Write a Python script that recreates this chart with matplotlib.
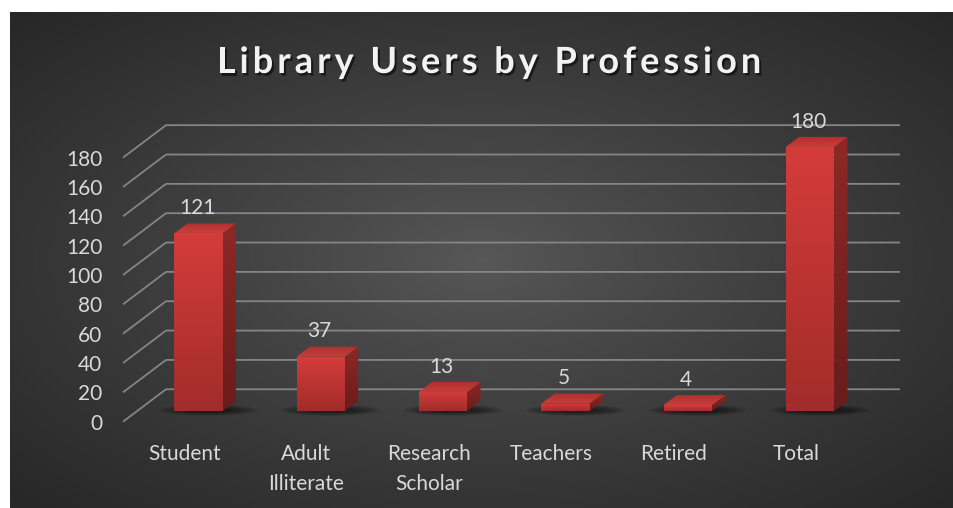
import numpy as np
import matplotlib
matplotlib.use("Agg")
from matplotlib import pyplot as plt
from matplotlib.patches import Polygon, Ellipse
import matplotlib.patheffects as pe

categories = ["Student", "Adult\nIlliterate", "Research\nScholar", "Teachers", "Retired", "Total"]
users = [121, 37, 13, 5, 4, 180]
y_ticks = [0, 20, 40, 60, 80, 100, 120, 140, 160, 180]
chart_title = "Library Users by Profession"

FONT = ["Lato", "DejaVu Sans"]
LABEL_COLOR = "#d9d9d9"

# oblique 3d look: full floor depth in data units
DEPTH_X = 0.3515
DEPTH_Y = 22.1
BAR_D0, BAR_D1 = 0.33, 0.64
BAR_W = 0.395

W, H = 954, 508
fig = plt.figure(figsize=(W / 100, H / 100), dpi=100)
fig.patch.set_facecolor("white")

# radial grey background
bg = fig.add_axes([10 / W, 0, (W - 10) / W, (H - 12) / H])
bg.set_axis_off()
gx = np.linspace(-1, 1, 472)
gy = np.linspace(-1, 1, 248)
xx, yy = np.meshgrid(gx, gy)
r = np.clip(np.sqrt(xx ** 2 + yy ** 2) / np.sqrt(2), 0, 1)
c_in, c_out = 0x58 / 255, 0x27 / 255
grey = c_in + (c_out - c_in) * r ** 0.85
bg.imshow(np.dstack([grey, grey, grey]), extent=[0, 1, 0, 1], aspect="auto", interpolation="bilinear")
bg.set_xlim(0, 1)
bg.set_ylim(0, 1)

ax = fig.add_axes([123 / W, 86.3 / H, 734 / W, 264.1 / H])
ax.set_facecolor("none")
for s in ax.spines.values():
    s.set_visible(False)

n = len(categories)
x0, x1 = -0.5, n - 0.5

# gridlines: side wall + back wall
for v in y_ticks:
    ax.plot([x0, x0 + DEPTH_X, x1 + DEPTH_X], [v, v + DEPTH_Y, v + DEPTH_Y],
            color="#858585", lw=1.3, clip_on=False, zorder=1, solid_capstyle="butt")


def hexrgb(h):
    h = h.lstrip("#")
    return [int(h[i:i + 2], 16) / 255 for i in (0, 2, 4)]


def grad_face(poly_xy, top_hex, bot_hex, z):
    poly = Polygon(poly_xy, closed=True, facecolor="none", edgecolor="none", clip_on=False)
    ax.add_patch(poly)
    xs = [p[0] for p in poly_xy]
    ys = [p[1] for p in poly_xy]
    top_rgb, bot_rgb = hexrgb(top_hex), hexrgb(bot_hex)
    t = np.linspace(0, 1, 64)[:, None]
    img = np.zeros((64, 2, 3))
    for k in range(3):
        img[:, :, k] = top_rgb[k] + (bot_rgb[k] - top_rgb[k]) * t
    im = ax.imshow(img, extent=[min(xs), max(xs), min(ys), max(ys)], origin="upper",
                   aspect="auto", interpolation="bilinear", zorder=z)
    im.set_clip_path(poly)
    im.set_clip_box(fig.bbox)


for i, v in enumerate(users):
    xl = i - BAR_W / 2 + BAR_D0 * DEPTH_X
    xr = xl + BAR_W
    yb = BAR_D0 * DEPTH_Y
    yt = yb + v
    ddx = (BAR_D1 - BAR_D0) * DEPTH_X
    ddy = (BAR_D1 - BAR_D0) * DEPTH_Y

    # soft floor shadow
    for k in range(6):
        ax.add_patch(Ellipse((i + 0.5 * DEPTH_X + 0.02, yb + 0.5), 0.8 - 0.08 * k, 7.5 - 0.9 * k,
                             facecolor="black", edgecolor="none", alpha=0.1, zorder=2, clip_on=False))

    front = [(xl, yb), (xr, yb), (xr, yt), (xl, yt)]
    side = [(xr, yb), (xr + ddx, yb + ddy), (xr + ddx, yt + ddy), (xr, yt)]
    top = [(xl, yt), (xr, yt), (xr + ddx, yt + ddy), (xl + ddx, yt + ddy)]
    grad_face(side, "#8e2826", "#6a1c1b", 3)
    grad_face(top, "#b02e2c", "#c63f3c", 3)
    grad_face(front, "#d43c3a", "#a22c2a", 4)

    ax.annotate(str(v), xy=(i + BAR_D0 * DEPTH_X, yt + ddy), xytext=(-1, 11),
                textcoords="offset points", ha="center", va="center",
                fontsize=15, color=LABEL_COLOR, family=FONT, zorder=5, annotation_clip=False)

ax.set_xlim(x0, x1)
ax.set_ylim(0, 180)
ax.set_yticks(y_ticks)
ax.set_yticklabels([str(t) for t in y_ticks], family=FONT, fontsize=15, color=LABEL_COLOR)
ax.set_xticks(range(n))
ax.set_xticklabels(categories, family=FONT, fontsize=15, color=LABEL_COLOR, linespacing=1.6)
ax.tick_params(axis="y", length=0, pad=15)
ax.tick_params(axis="x", length=0, pad=16)

# title with extra letter spacing, laid out char by char
renderer = fig.canvas.get_renderer()
title_kw = dict(fontsize=26, fontweight="bold", color="#f2f2f2", family=FONT, va="baseline",
                path_effects=[pe.SimplePatchShadow(offset=(1.5, -1.8), shadow_rgbFace="black", alpha=0.55),
                              pe.Normal()])
prefix = []
for k in range(len(chart_title) + 1):
    probe = fig.text(0, 0, chart_title[:k] + "|", **title_kw)
    prefix.append(probe.get_window_extent(renderer).width)
    probe.remove()
bar_w = prefix[0]
prefix = [p - bar_w for p in prefix]
spacing = 4.0
total_w = prefix[-1] + spacing * (len(chart_title) - 1)
start = 489 - total_w / 2
for k, ch in enumerate(chart_title):
    if ch == " ":
        continue
    fig.text((start + prefix[k] + spacing * k) / W, 1 - 73 / H, ch, ha="left", **title_kw)

fig.savefig("out.png", dpi=100, facecolor=fig.get_facecolor())
